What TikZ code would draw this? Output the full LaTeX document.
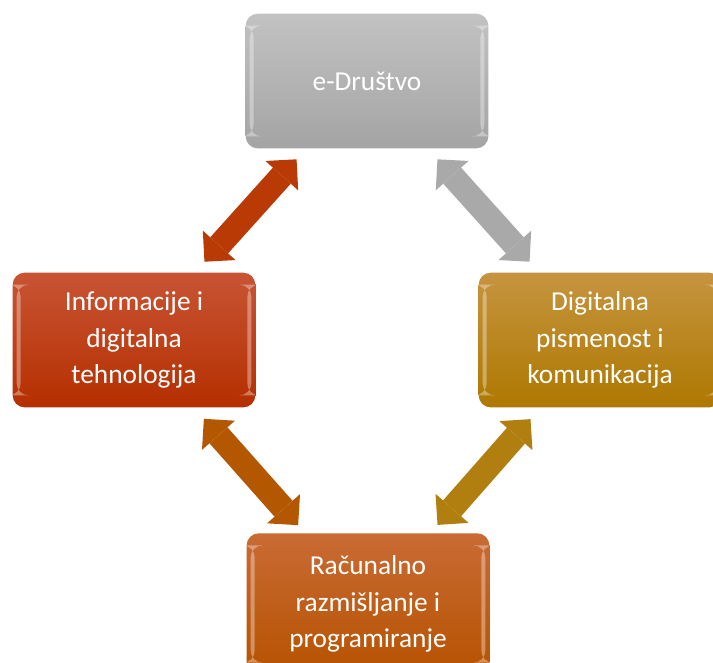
\documentclass[tikz,border=0pt]{standalone}
\usepackage{fontspec}
\setmainfont{Carlito}
\usetikzlibrary{arrows.meta}

\definecolor{sivaG}{HTML}{C2C2C2}
\definecolor{sivaD}{HTML}{A4A4A4}
\definecolor{crvenaG}{HTML}{C85434}
\definecolor{crvenaD}{HTML}{B52F00}
\definecolor{zlatnaG}{HTML}{C69440}
\definecolor{zlatnaD}{HTML}{AE7800}
\definecolor{narancG}{HTML}{C96B35}
\definecolor{narancD}{HTML}{B65200}
\definecolor{crvenaS}{HTML}{B93A05}
\definecolor{sivaS}{HTML}{A9A9A9}
\definecolor{narancS}{HTML}{B35800}
\definecolor{zlatnaS}{HTML}{B07F10}

\tikzset{
  kutija/.style={rounded corners=9pt, minimum width=182pt, minimum height=101pt,
    inner sep=0pt, align=center, text=white,
    font=\fontsize{20.5}{27.5}\selectfont,
    path picture={
      \fill[white,opacity=.35] ([xshift=3pt,yshift=-9pt]path picture bounding box.north west)
        rectangle ([xshift=6pt,yshift=9pt]path picture bounding box.south west);
      \fill[white,opacity=.35] ([xshift=-6pt,yshift=-9pt]path picture bounding box.north east)
        rectangle ([xshift=-3pt,yshift=9pt]path picture bounding box.south east);
    }},
  strelica/.style={line width=18pt,
    >={Triangle[length=16.5pt 0 0,width=33pt 0 0,line width=0pt 0 0]}, <->,
    shorten <=79pt, shorten >=79pt}
}

\begin{document}
\begin{tikzpicture}[x=0.75pt,y=-0.75pt]
\useasboundingbox (0,0) rectangle (713,662);
\clip (0,0) rectangle (713,662);

% kutije
\node[kutija, top color=sivaG, bottom color=sivaD] (drustvo) at (367,81) {e-Društvo};
\node[kutija, top color=crvenaG, bottom color=crvenaD] (info) at (134,340)
  {Informacije i\\digitalna\\tehnologija};
\node[kutija, top color=zlatnaG, bottom color=zlatnaD] (pismenost) at (600,340)
  {Digitalna\\pismenost i\\komunikacija};
\node[kutija, minimum height=106pt, top color=narancG, bottom color=narancD] (racunalno) at (368,604)
  {Računalno\\razmišljanje i\\programiranje};

% strelice
\draw[strelica, draw=crvenaS] (drustvo.center) -- (info.center);
\draw[strelica, draw=sivaS] (drustvo.center) -- (pismenost.center);
\draw[strelica, draw=narancS] (info.center) -- (racunalno.center);
\draw[strelica, draw=zlatnaS] (pismenost.center) -- (racunalno.center);
\end{tikzpicture}
\end{document}
